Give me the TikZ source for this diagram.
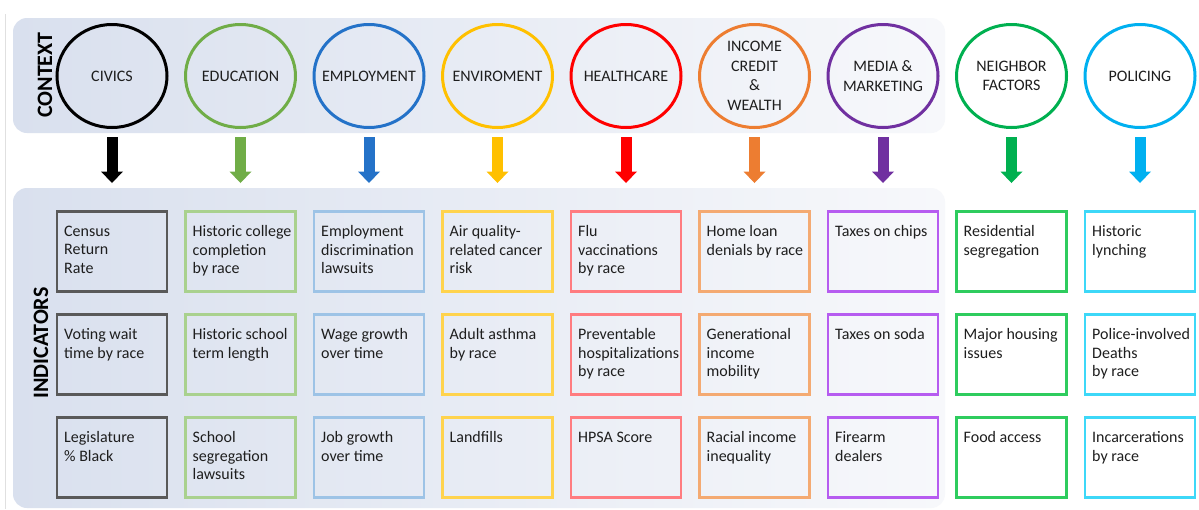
\documentclass[tikz,border=0pt]{standalone}
\usepackage{fontspec}
\setmainfont{Carlito}
\usetikzlibrary{shapes.geometric,calc}

\definecolor{bandL}{HTML}{D9E0EE}
\definecolor{bandR}{HTML}{F7F8FB}
\definecolor{txt}{HTML}{1E1E1E}
% circle / arrow colours
\definecolor{cCiv}{HTML}{000000}
\definecolor{cEdu}{HTML}{70AD47}
\definecolor{cEmp}{HTML}{2472C8}
\definecolor{cEnv}{HTML}{FFC000}
\definecolor{cHea}{HTML}{FF0000}
\definecolor{cInc}{HTML}{ED7D31}
\definecolor{cMed}{HTML}{7030A0}
\definecolor{cNei}{HTML}{00B050}
\definecolor{cPol}{HTML}{00B0F0}
% indicator box colours
\definecolor{bCiv}{HTML}{595959}
\definecolor{bEdu}{HTML}{A9D18E}
\definecolor{bEmp}{HTML}{9DC3E6}
\definecolor{bEnv}{HTML}{FFD34D}
\definecolor{bHea}{HTML}{FF7C80}
\definecolor{bInc}{HTML}{F4AA72}
\definecolor{bMed}{HTML}{B65CF0}
\definecolor{bNei}{HTML}{2ECC5E}
\definecolor{bPol}{HTML}{3DD8F8}

% context circle with its label: name, x, colour, text
\newcommand\ctxcircle[4]{%
  \node[ctx,draw=#3] (#1) at (#2,76) {};
  \node[ctxtext] (#1t) at (#1.center) {#4};
}
% indicator box with its text: name, x, y, colour, text
\newcommand\indbox[5]{%
  \node[ibox,draw=#4] (#1) at (#2,#3) {};
  \node[itext] (#1t) at ($(#1.north west)+(7,14)$) {#5};
}
% block arrow from a context circle towards its indicator column
\newcommand\ctxarrow[3]{%
  \fill[#3] ($(#1.south)+(-5.5,9.5)$) rectangle ($(#1.south)+(5.5,45)$);
  \fill[#3] ($(#1.south)+(-11,44)$) -- ($(#1.south)+(11,44)$)
            -- ($(#2.north)+(0,-28.5)$) -- cycle;
}

\begin{document}
\begin{tikzpicture}[x=1pt,y=-1pt,
  band/.style={rounded corners=14pt,left color=bandL,right color=bandR,draw=none},
  ctx/.style={ellipse,minimum width=110pt,minimum height=103pt,line width=3pt,
    inner sep=0pt,outer sep=0pt},
  ctxtext/.style={inner sep=0pt,align=center,
    font=\fontsize{16}{19.5}\selectfont,text=txt},
  ibox/.style={rectangle,minimum width=110pt,minimum height=80pt,line width=2.5pt,
    inner sep=0pt,outer sep=0pt},
  itext/.style={anchor=north west,inner sep=0pt,align=left,
    font=\fontsize{16}{18.5}\selectfont,text=txt},
  side/.style={rotate=90,inner sep=0pt,font=\fontsize{22}{24}\selectfont\bfseries,text=black}]

\useasboundingbox (0,0) rectangle (1199,509);
\fill[white] (0,0) rectangle (1199,509);
\draw[black!12,line width=1pt] (5,14) -- (5,509);

% background bands
\path[band] (13,18) rectangle (945,133);
\path[band] (13,188) rectangle (945,508);

\node[side] (lctx) at (45,75) {CONTEXT};
\node[side] (lind) at (41,343) {INDICATORS};

% context circles
\ctxcircle{c1}{112}{cCiv}{CIVICS}
\ctxcircle{c2}{240.5}{cEdu}{EDUCATION}
\ctxcircle{c3}{369}{cEmp}{EMPLOYMENT}
\ctxcircle{c4}{497.5}{cEnv}{ENVIROMENT}
\ctxcircle{c5}{626}{cHea}{HEALTHCARE}
\ctxcircle{c6}{754.5}{cInc}{INCOME\\CREDIT\\\&\\WEALTH}
\ctxcircle{c7}{883}{cMed}{MEDIA \&\\MARKETING}
\ctxcircle{c8}{1011.5}{cNei}{NEIGHBOR\\FACTORS}
\ctxcircle{c9}{1140}{cPol}{POLICING}

% indicators, column by column
\indbox{b11}{112}{251.5}{bCiv}{Census\\Return\\Rate}
\indbox{b12}{112}{354.5}{bCiv}{Voting wait\\time by race}
\indbox{b13}{112}{457.5}{bCiv}{Legislature\\\% Black}

\indbox{b21}{240.5}{251.5}{bEdu}{Historic college\\completion\\by race}
\indbox{b22}{240.5}{354.5}{bEdu}{Historic school\\term length}
\indbox{b23}{240.5}{457.5}{bEdu}{School\\segregation\\lawsuits}

\indbox{b31}{369}{251.5}{bEmp}{Employment\\discrimination\\lawsuits}
\indbox{b32}{369}{354.5}{bEmp}{Wage growth\\over time}
\indbox{b33}{369}{457.5}{bEmp}{Job growth\\over time}

\indbox{b41}{497.5}{251.5}{bEnv}{Air quality-\\related cancer\\risk}
\indbox{b42}{497.5}{354.5}{bEnv}{Adult asthma\\by race}
\indbox{b43}{497.5}{457.5}{bEnv}{Landfills}

\indbox{b51}{626}{251.5}{bHea}{Flu\\vaccinations\\by race}
\indbox{b52}{626}{354.5}{bHea}{Preventable\\hospitalizations\\by race}
\indbox{b53}{626}{457.5}{bHea}{HPSA Score}

\indbox{b61}{754.5}{251.5}{bInc}{Home loan\\denials by race}
\indbox{b62}{754.5}{354.5}{bInc}{Generational\\income\\mobility}
\indbox{b63}{754.5}{457.5}{bInc}{Racial income\\inequality}

\indbox{b71}{883}{251.5}{bMed}{Taxes on chips}
\indbox{b72}{883}{354.5}{bMed}{Taxes on soda}
\indbox{b73}{883}{457.5}{bMed}{Firearm\\dealers}

\indbox{b81}{1011.5}{251.5}{bNei}{Residential\\segregation}
\indbox{b82}{1011.5}{354.5}{bNei}{Major housing\\issues}
\indbox{b83}{1011.5}{457.5}{bNei}{Food access}

\indbox{b91}{1140}{251.5}{bPol}{Historic\\lynching}
\indbox{b92}{1140}{354.5}{bPol}{Police-involved\\Deaths\\by race}
\indbox{b93}{1140}{457.5}{bPol}{Incarcerations\\by race}

% context -> indicator arrows
\ctxarrow{c1}{b11}{cCiv}
\ctxarrow{c2}{b21}{cEdu}
\ctxarrow{c3}{b31}{cEmp}
\ctxarrow{c4}{b41}{cEnv}
\ctxarrow{c5}{b51}{cHea}
\ctxarrow{c6}{b61}{cInc}
\ctxarrow{c7}{b71}{cMed}
\ctxarrow{c8}{b81}{cNei}
\ctxarrow{c9}{b91}{cPol}
\end{tikzpicture}
\end{document}
